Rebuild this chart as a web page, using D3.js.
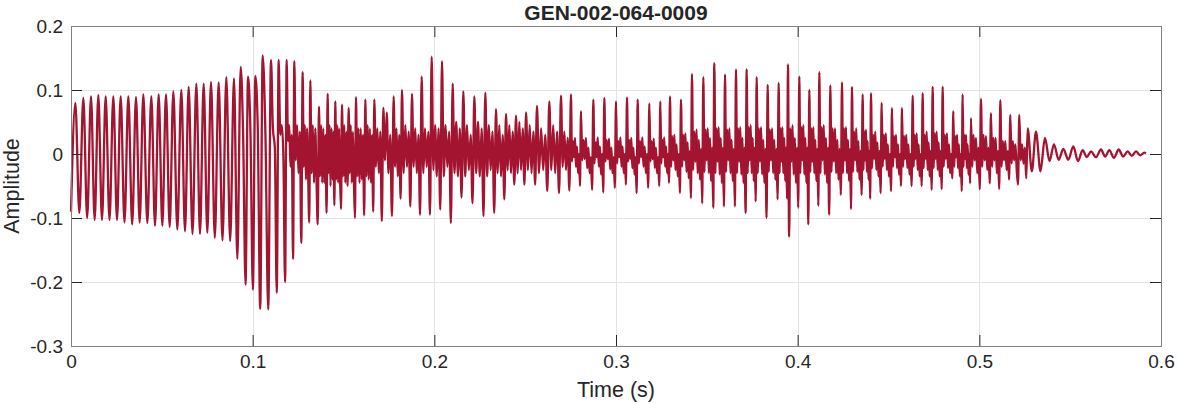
<!DOCTYPE html>
<html>
<head>
<meta charset="utf-8">
<script src="https://cdn.jsdelivr.net/npm/d3@7"></script>
<style>
body { margin: 0; background: #fff; }
text { font-family: "Liberation Sans", Arial, sans-serif; fill: #262626; }
</style>
</head>
<body>
<svg id="chart" width="1177" height="404"></svg>
<script>
// tick values / labels
var xTicks = [0, 0.1, 0.2, 0.3, 0.4, 0.5, 0.6];
var yTicks = [-0.3, -0.2, -0.1, 0, 0.1, 0.2];
var titleText = "GEN-002-064-0009";
var xLabel = "Time (s)";
var yLabel = "Amplitude";

// waveform.
// *T = start of each pitch cycle (ms, at its spike), *V = amplitudes inside that cycle
var onsetT = [0, 2.39, 6.79, 11.01, 15.04, 19.08, 23.30, 27.34, 31.56, 35.78, 39.81, 44.22, 48.26,
	52.29, 56.33, 60.73, 64.77, 68.99, 73.03, 77.06, 81.28, 85.50, 89.72, 93.40, 97.43, 101.47];
var onsetV = [[-0.09], [0.080,-0.092], [0.0875,-0.100], [0.090,-0.103], [0.092,-0.103], [0.090,-0.103],
	[0.090,-0.103], [0.090,-0.107], [0.090,-0.110], [0.089,-0.107], [0.093,-0.108], [0.090,-0.112],
	[0.093,-0.112], [0.093,-0.114], [0.098,-0.118], [0.100,-0.121], [0.105,-0.125], [0.110,-0.125],
	[0.110,-0.123], [0.1125,-0.131], [0.112,-0.135], [0.120,-0.136], [0.118,-0.164],
	[0.136,0.03,-0.204], [0.121,0.035,-0.212], [0.122,0.04,-0.242]];

var burstT = [105.50, 110.09, 114.31, 118.72, 122.93, 127.52, 131.74, 136.5, 141.28, 145.5, 149.17,
	152.84, 156.88, 162.02, 166.97, 171.92, 177.61, 182.2, 187.7, 193.03, 198.53, 204.22, 210.09,
	215.96, 222.02, 228.07, 233.94, 239.45, 244.95, 250.5, 256.5, 263.30, 269.72];
var burstV = [
	[0.154,0.03,-0.243], [0.147,0.04,0.01,-0.217], [0.147,0.03,0.045,-0.01,-0.200],
	[0.147,0.02,0.045,-0.02,0.03,-0.164], [0.145,-0.01,0.045,-0.03,0.035,-0.139],
	[0.128,-0.02,0.045,-0.04,0.04,-0.03,-0.107], [0.115,-0.03,0.045,-0.045,0.04,-0.04,-0.110],
	[0.074,-0.035,0.045,-0.045,0.04,-0.045,0.03,-0.092], [0.094,-0.03,0.045,-0.05,0.04,-0.04,0.035,-0.080],
	[0.082,-0.04,0.045,-0.045,0.04,-0.04,-0.086], [0.077,-0.035,0.045,-0.045,0.035,-0.05],
	[0.072,-0.03,0.045,-0.045,0.035,-0.04,-0.100], [0.089,-0.035,0.04,-0.045,0.04,-0.04,0.03,-0.096],
	[0.085,-0.035,0.045,-0.04,0.04,-0.045,0.03,-0.090], [0.085,-0.02,0.04,-0.03,0.035,-0.105],
	[0.072,-0.01,0.065,-0.03,0.03,-0.097], [0.090,-0.02,0.04,-0.035,0.03,-0.070],
	[0.100,-0.03,0.045,-0.02,0.035,-0.082], [0.094,-0.02,0.04,-0.03,0.03,-0.095],
	[0.121,-0.03,0.04,-0.02,0.035,-0.095], [0.152,-0.025,0.045,-0.035,0.04,-0.087],
	[0.145,-0.035,0.045,-0.02,0.035,-0.108], [0.110,-0.03,0.05,-0.035,0.04,-0.068],
	[0.098,-0.035,0.045,-0.025,0.03,-0.077], [0.090,-0.03,0.05,-0.035,0.04,-0.097],
	[0.096,-0.035,0.045,-0.025,0.035,-0.092], [0.070,-0.03,0.045,-0.035,0.03,-0.071],
	[0.0625,-0.025,0.045,-0.03,0.035,-0.048], [0.060,-0.03,0.05,-0.025,0.04,-0.048],
	[0.065,-0.025,0.045,-0.03,0.035,-0.048], [0.075,-0.03,0.04,-0.025,0.03,-0.058],
	[0.082,-0.025,0.045,-0.03,0.035,-0.061], [0.091,-0.02,0.035,-0.025,0.025,-0.057]];

var vowelT = [275.22, 280.73, 287.52, 293.58, 300.0, 306.05, 311.93, 318.35, 324.4, 329.72, 335.78,
	341.83, 348.07, 354.13, 360.0, 366.05, 371.93, 377.43, 383.48, 389.54, 394.67, 400.91, 406.41,
	411.92, 417.97, 424.4, 429.9, 435.77, 440.36, 446.24, 451.92, 457.42, 463.3, 468.8, 474.3,
	479.81, 485.68, 490.82];
var vowelV = [
	[0.093,-0.012,0.02,-0.005,0.025,-0.02,0.012,-0.03,0.0,-0.05],
	[0.067,-0.01,0.022,-0.008,0.025,-0.022,0.01,-0.03,-0.005,-0.056],
	[0.085,-0.015,0.018,-0.005,0.026,-0.02,0.012,-0.032,0.0,-0.06],
	[0.0875,-0.012,0.022,-0.008,0.024,-0.024,0.01,-0.03,-0.005,-0.053],
	[0.082,-0.015,0.02,-0.005,0.026,-0.02,0.012,-0.03,0.0,-0.048],
	[0.0885,-0.012,0.022,-0.008,0.025,-0.022,0.01,-0.032,-0.005,-0.061],
	[0.085,-0.015,0.02,-0.005,0.026,-0.02,0.012,-0.03,0.0,-0.053],
	[0.079,-0.012,0.02,-0.008,0.024,-0.022,0.01,-0.03,-0.005,-0.05],
	[0.082,-0.015,0.022,-0.005,0.026,-0.02,0.012,-0.03,0.0,-0.045],
	[0.090,-0.02,0.028,-0.01,0.03,-0.025,0.015,-0.035,0.0,-0.061],
	[0.085,-0.02,0.03,-0.01,0.032,-0.028,0.018,-0.038,0.005,-0.069],
	[0.125,-0.025,0.035,-0.012,0.038,-0.03,0.022,-0.04,0.008,-0.077],
	[0.120,-0.028,0.038,-0.01,0.04,-0.03,0.025,-0.042,0.01,-0.084],
	[0.142,-0.03,0.04,-0.012,0.042,-0.032,0.025,-0.045,0.01,-0.082],
	[0.124,-0.028,0.038,-0.01,0.04,-0.03,0.022,-0.042,0.008,-0.082],
	[0.132,-0.03,0.04,-0.012,0.042,-0.032,0.025,-0.045,0.01,-0.092],
	[0.132,-0.03,0.042,-0.01,0.045,-0.03,0.025,-0.042,0.01,-0.074],
	[0.120,-0.03,0.04,-0.012,0.042,-0.032,0.022,-0.045,0.008,-0.100],
	[0.108,-0.028,0.038,-0.01,0.04,-0.03,0.022,-0.04,0.008,-0.071],
	[0.111,-0.03,0.04,-0.012,0.042,-0.03,0.025,-0.042,0.01,-0.07],
	[0.140,-0.129,0.04,-0.012,0.045,-0.032,0.025,-0.045,0.01,-0.084],
	[0.121,-0.03,0.042,-0.01,0.045,-0.032,0.025,-0.045,0.01,-0.110],
	[0.100,-0.028,0.04,-0.012,0.042,-0.03,0.022,-0.042,0.008,-0.081],
	[0.128,-0.03,0.042,-0.01,0.045,-0.032,0.025,-0.045,0.01,-0.095],
	[0.107,-0.028,0.04,-0.012,0.04,-0.03,0.022,-0.04,0.008,-0.064],
	[0.112,-0.03,0.04,-0.01,0.042,-0.03,0.022,-0.042,0.008,-0.086],
	[0.105,-0.028,0.035,-0.01,0.04,-0.028,0.02,-0.04,0.005,-0.064],
	[0.093,-0.025,0.035,-0.01,0.038,-0.028,0.02,-0.04,0.005,-0.070],
	[0.095,-0.022,0.03,-0.008,0.035,-0.025,0.018,-0.035,0.005,-0.061],
	[0.080,-0.02,0.03,-0.008,0.032,-0.025,0.015,-0.035,0.0,-0.058],
	[0.072,-0.02,0.028,-0.005,0.03,-0.022,0.015,-0.032,0.0,-0.05],
	[0.072,-0.02,0.028,-0.008,0.03,-0.022,0.015,-0.032,0.0,-0.05],
	[0.091,-0.02,0.03,-0.008,0.032,-0.025,0.015,-0.035,0.0,-0.05],
	[0.095,-0.022,0.03,-0.008,0.035,-0.025,0.018,-0.035,0.005,-0.056],
	[0.105,-0.022,0.032,-0.008,0.035,-0.025,0.018,-0.035,0.005,-0.055],
	[0.105,-0.02,0.03,-0.008,0.032,-0.022,0.015,-0.03,0.0,-0.038],
	[0.067,-0.02,0.028,-0.005,0.03,-0.022,0.015,-0.035,0.0,-0.058],
	[0.093,-0.02,0.03,-0.008,0.03,-0.022,0.015,-0.032,0.0,-0.046]];

var tailT = [495.4, 500.91, 506.41, 511.55, 517.05, 522.0, 526.6, 531.18, 536.13, 541.09, 546.22,
	551.73, 556.87, 561.46, 566.96, 571.55, 576.69, 581.65, 586.23, 590.82, 591.74];
var tailV = [[0.056,-0.02,0.03,-0.01,0.025,-0.03,0.01,-0.055], [0.086,-0.02,0.03,-0.01,0.028,-0.025,0.01,-0.046],
	[0.064,-0.02,0.025,-0.01,0.025,-0.03,0.005,-0.055], [0.084,-0.02,0.02,-0.01,0.02,-0.025,0.005,-0.040],
	[0.061,-0.015,0.02,-0.01,0.015,-0.025,-0.048], [0.061,-0.01,0.015,-0.015,0.01,-0.038],
	[0.040,-0.027], [0.035,-0.027], [0.025,-0.011], [0.015,-0.009], [0.008,-0.009],
	[0.012,-0.011], [0.006,-0.005], [0.004,-0.005], [0.007,-0.004], [0.006,-0.006],
	[0.007,-0.004], [0.004,-0.003], [0.004,-0.002], [0.002], [0.001]];

// flatten cycles into [seconds, amplitude] points
function build_points(){
	var starts = onsetT.concat(burstT, vowelT, tailT);
	var vals = onsetV.concat(burstV, vowelV, tailV);
	var pts = [];
	for (var i = 0; i < starts.length; i++){
		var t0 = starts[i];
		var t1 = i + 1 < starts.length ? starts[i+1] : t0;
		var v = vals[i];
		for (var k = 0; k < v.length; k++){
			pts.push([(t0 + (t1 - t0) * k / v.length) / 1000, v[k]]);
		}
	}
	return pts;
}

var svg = d3.select("#chart");
var mLeft = 71, mRight = 1161, mTop = 26, mBottom = 346;

var x = d3.scaleLinear().domain([0, 0.6]).range([mLeft, mRight]);
var y = d3.scaleLinear().domain([-0.3, 0.2]).range([mBottom, mTop]);
var fmt = function(d){ return String(+d.toFixed(1)); };

// grid
var grid = svg.append("g").attr("stroke", "#e3e3e3").attr("stroke-width", 1);
grid.selectAll(".gx").data(xTicks.slice(1, -1)).enter().append("line")
	.attr("x1", function(d){ return Math.round(x(d)) + 0.5; })
	.attr("x2", function(d){ return Math.round(x(d)) + 0.5; })
	.attr("y1", mTop).attr("y2", mBottom);
grid.selectAll(".gy").data(yTicks.slice(1, -1)).enter().append("line")
	.attr("y1", function(d){ return Math.round(y(d)) + 0.5; })
	.attr("y2", function(d){ return Math.round(y(d)) + 0.5; })
	.attr("x1", mLeft).attr("x2", mRight);

// waveform
var line = d3.line()
	.x(function(d){ return x(d[0]); })
	.y(function(d){ return y(d[1]); })
	.curve(d3.curveMonotoneX);

svg.append("path")
	.datum(build_points())
	.attr("d", line)
	.attr("fill", "none")
	.attr("stroke", "#a2142f")
	.attr("stroke-width", 2.3)
	.attr("stroke-linejoin", "round");

// axes, ticks pointing inward on all four sides
var tick = 11;
function style_axis(g){
	g.select(".domain").remove();
	g.selectAll(".tick line").attr("stroke", "#262626");
	g.selectAll(".tick text").attr("fill", "#262626")
		.style("font-size", "19px").style("font-family", "'Liberation Sans', Arial, sans-serif");
}
svg.append("g").attr("transform", "translate(0," + mBottom + ")")
	.call(d3.axisBottom(x).tickValues(xTicks).tickFormat(fmt).tickSizeInner(-tick).tickSizeOuter(0).tickPadding(9))
	.call(style_axis);
svg.append("g").attr("transform", "translate(0," + mTop + ")")
	.call(d3.axisTop(x).tickValues(xTicks).tickFormat("").tickSizeInner(-tick).tickSizeOuter(0))
	.call(style_axis);
svg.append("g").attr("transform", "translate(" + mLeft + ",0)")
	.call(d3.axisLeft(y).tickValues(yTicks).tickFormat(fmt).tickSizeInner(-tick).tickSizeOuter(0).tickPadding(8))
	.call(style_axis);
svg.append("g").attr("transform", "translate(" + mRight + ",0)")
	.call(d3.axisRight(y).tickValues(yTicks).tickFormat("").tickSizeInner(-tick).tickSizeOuter(0))
	.call(style_axis);

// box
svg.append("rect")
	.attr("x", mLeft + 0.5).attr("y", mTop + 0.5)
	.attr("width", mRight - mLeft).attr("height", mBottom - mTop)
	.attr("fill", "none").attr("stroke", "#808080").attr("stroke-width", 1);

// texts
svg.append("text").text(titleText)
	.attr("x", (mLeft + mRight) / 2).attr("y", 20)
	.attr("text-anchor", "middle").style("font-size", "21px").style("font-weight", "bold");
svg.append("text").text(xLabel)
	.attr("x", (mLeft + mRight) / 2).attr("y", 397)
	.attr("text-anchor", "middle").style("font-size", "21.5px");
svg.append("text").text(yLabel)
	.attr("transform", "translate(19," + (mTop + mBottom) / 2 + ") rotate(-90)")
	.attr("text-anchor", "middle").style("font-size", "21.5px");
</script>
</body>
</html>
